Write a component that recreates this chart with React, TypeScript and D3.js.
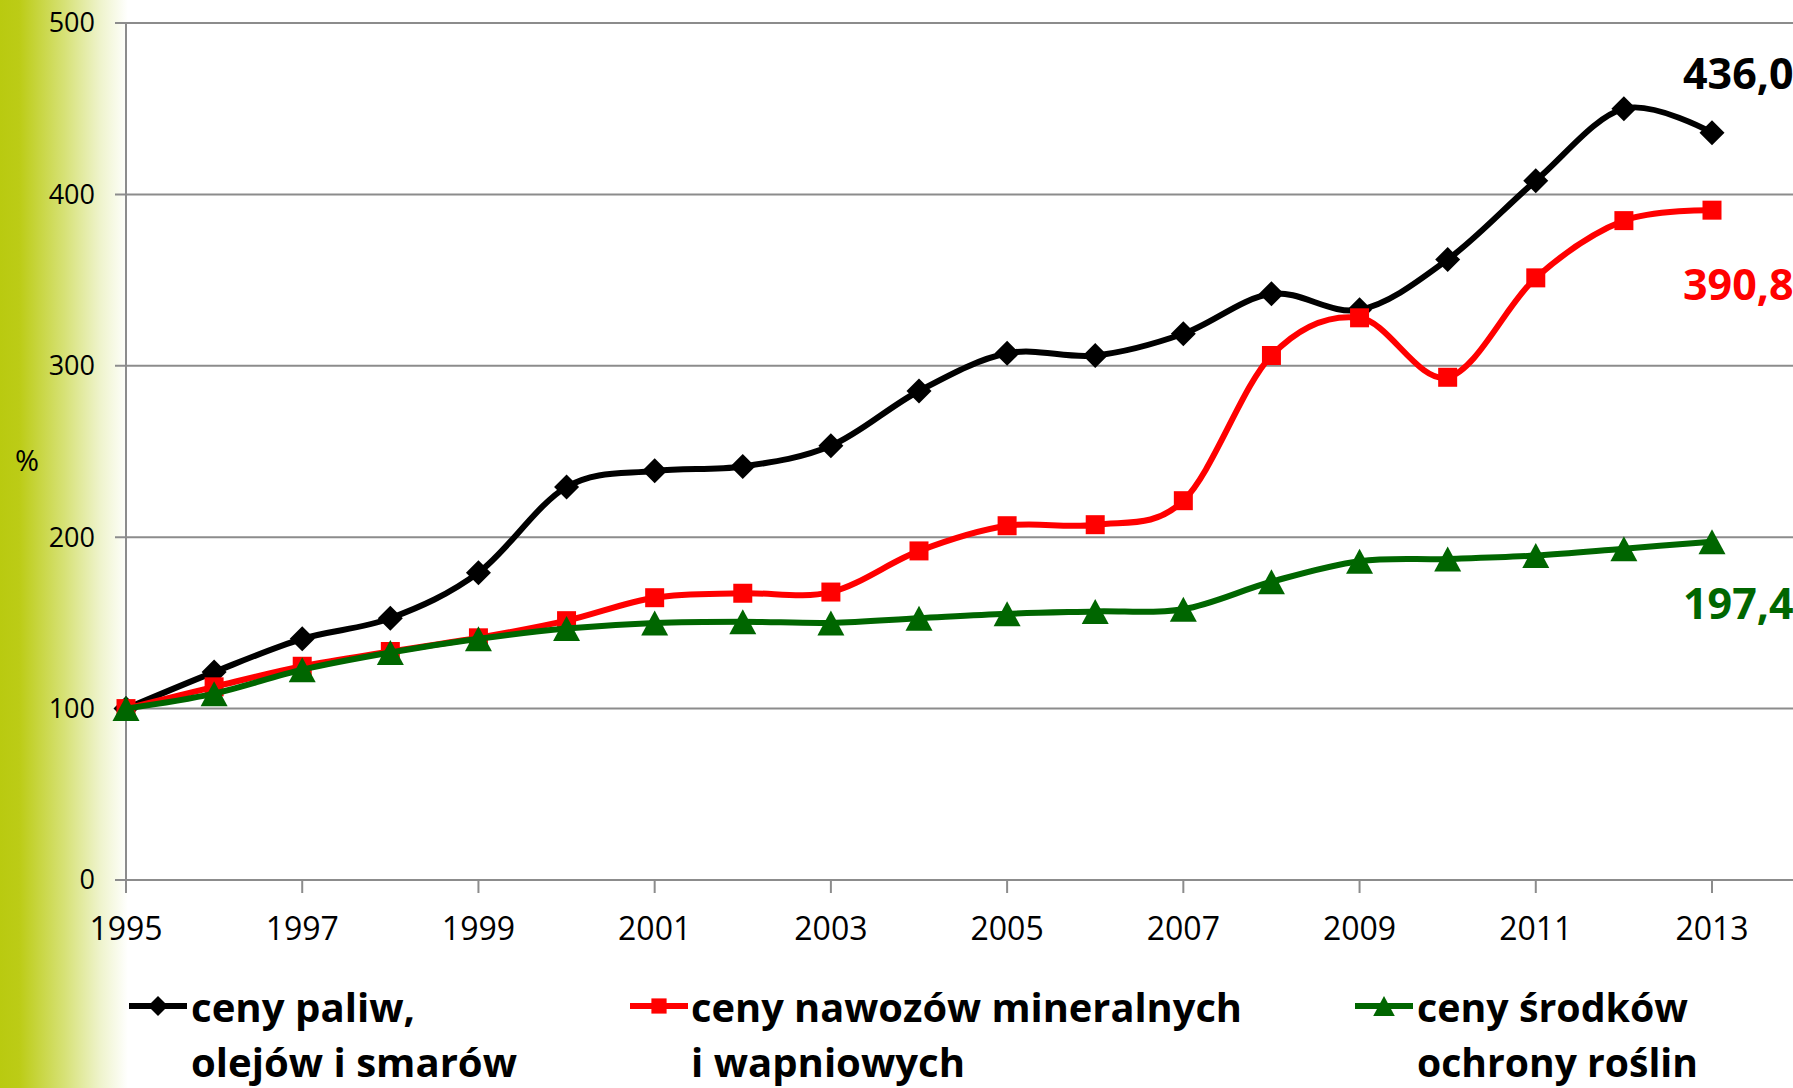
import React from 'react';
import * as d3 from 'd3';

const years = [1995, 1996, 1997, 1998, 1999, 2000, 2001, 2002, 2003, 2004, 2005, 2006, 2007, 2008, 2009, 2010, 2011, 2012, 2013];
const fuel = [100, 121.3, 140.7, 152.7, 179.3, 229.3, 238.7, 241.3, 253.3, 285.3, 307.3, 306, 318.7, 342, 332.7, 362, 408, 450, 436.0];
const fertilizer = [100, 112.7, 124.7, 133.3, 141.3, 151.3, 164.7, 167.3, 168, 192, 206.7, 207.3, 221.3, 306, 328, 293.3, 351.3, 384.7, 390.8];
const protection = [100, 108.7, 122.7, 132.7, 140.7, 146.7, 150, 150.7, 150, 152.7, 155.3, 156.7, 158, 174, 186, 187.3, 189.3, 193.3, 197.4];
const yTicks = [0, 100, 200, 300, 400, 500];
const xTickYears = [1995, 1997, 1999, 2001, 2003, 2005, 2007, 2009, 2011, 2013];

type Series = {
    values: number[];
    color: string;
    marker: 'diamond' | 'square' | 'triangle';
    legend: string[];
    endLabel: string;
};

const series: Series[] = [
    { values: fuel, color: '#000000', marker: 'diamond', legend: ['ceny paliw,', 'olejów i smarów'], endLabel: '436,0' },
    { values: fertilizer, color: '#ff0000', marker: 'square', legend: ['ceny nawozów mineralnych', 'i wapniowych'], endLabel: '390,8' },
    { values: protection, color: '#006600', marker: 'triangle', legend: ['ceny środków', 'ochrony roślin'], endLabel: '197,4' },
];

const W = 1793;
const H = 1088;
const FONT = '"Open Sans", "Noto Sans", sans-serif';
const LEGEND_FONT = '"Liberation Sans Narrow", "Open Sans", sans-serif';

function markerPath(kind: Series['marker'], s = 1) {
    if (kind === 'diamond') {
        const r = 12.5 * s;
        return `M0,${-r}L${r},0L0,${r}L${-r},0Z`;
    }
    if (kind === 'square') {
        const r = 9.5 * s;
        return `M${-r},${-r}H${r}V${r}H${-r}Z`;
    }
    const w = 13.5 * s;
    const h = 12.5 * s;
    return `M0,${-h}L${w},${h}H${-w}Z`;
}

export default function App() {
    const x = d3.scaleLinear().domain([1995, 2013]).range([126, 1712]);
    const y = d3.scaleLinear().domain([0, 500]).range([880, 23]);

    const line = d3.line<number>()
        .x((_, i) => x(years[i]))
        .y((d) => y(d))
        .curve(d3.curveCatmullRom.alpha(0));

    const legendPos = [
        { lx: 129, tx: 191, tw: [224, 326] },
        { lx: 630, tx: 691, tw: [551, 274] },
        { lx: 1355, tx: 1417, tw: [271, 281] },
    ];
    const endLabelY = [89, 300, 619];

    return (
        <div style={{ position: 'absolute', left: 0, top: 0 }}>
            <svg width={W} height={H} style={{ display: 'block' }}>
                <defs>
                    <linearGradient id="side" x1="0" x2="1" y1="0" y2="0">
                        <stop offset="0" stopColor="#b9ca10" />
                        <stop offset="0.15" stopColor="#bccc16" />
                        <stop offset="0.5" stopColor="#d6e175" />
                        <stop offset="0.78" stopColor="#eef3cb" />
                        <stop offset="1" stopColor="#ffffff" />
                    </linearGradient>
                </defs>
                <rect x={0} y={0} width={W} height={H} fill="#ffffff" />
                <rect x={0} y={0} width={128} height={H} fill="url(#side)" />

                {/* gridlines + y ticks */}
                {yTicks.map((t) => (
                    <g key={t}>
                        <line x1={115} x2={W} y1={y(t)} y2={y(t)} stroke="#8c8c8c" strokeWidth={2} />
                        <text x={95} y={y(t)} dy="0.35em" textAnchor="end" fontFamily={FONT} fontSize={27} fill="#000">{t}</text>
                    </g>
                ))}
                <line x1={x(1995)} x2={x(1995)} y1={y(500)} y2={y(0) + 13} stroke="#8c8c8c" strokeWidth={2} />
                {xTickYears.map((yr) => (
                    <g key={yr}>
                        <line x1={x(yr)} x2={x(yr)} y1={y(0)} y2={y(0) + 13} stroke="#8c8c8c" strokeWidth={2} />
                        <text x={x(yr)} y={940} textAnchor="middle" fontFamily={FONT} fontSize={32} fill="#000">{yr}</text>
                    </g>
                ))}
                <text x={27} y={461} dy="0.35em" textAnchor="middle" fontFamily={FONT} fontSize={29} fill="#000">%</text>

                {/* series */}
                {series.map((s) => (
                    <g key={s.endLabel}>
                        <path d={line(s.values) ?? ''} fill="none" stroke={s.color} strokeWidth={6} strokeLinejoin="round" />
                        {s.values.map((v, i) => (
                            <path key={i} d={markerPath(s.marker)} transform={`translate(${x(years[i])},${y(v)})`} fill={s.color} />
                        ))}
                    </g>
                ))}

                {/* end labels */}
                {series.map((s, i) => (
                    <text key={s.endLabel} x={1683} y={endLabelY[i]} fontFamily={FONT} fontWeight="bold" fontSize={43} fill={s.color}>{s.endLabel}</text>
                ))}

                {/* legend */}
                {series.map((s, i) => {
                    const p = legendPos[i];
                    return (
                        <g key={s.endLabel}>
                            <line x1={p.lx} x2={p.lx + 58} y1={1006} y2={1006} stroke={s.color} strokeWidth={6} />
                            <path d={markerPath(s.marker, 0.8)} transform={`translate(${p.lx + 29},1006)`} fill={s.color} />
                            {s.legend.map((ln, j) => (
                                <text key={j} x={p.tx} y={1022 + j * 55} fontFamily={LEGEND_FONT} fontWeight="bold" fontSize={40}
                                    textLength={p.tw[j]} lengthAdjust="spacingAndGlyphs" fill="#000">{ln}</text>
                            ))}
                        </g>
                    );
                })}
            </svg>
        </div>
    );
}
